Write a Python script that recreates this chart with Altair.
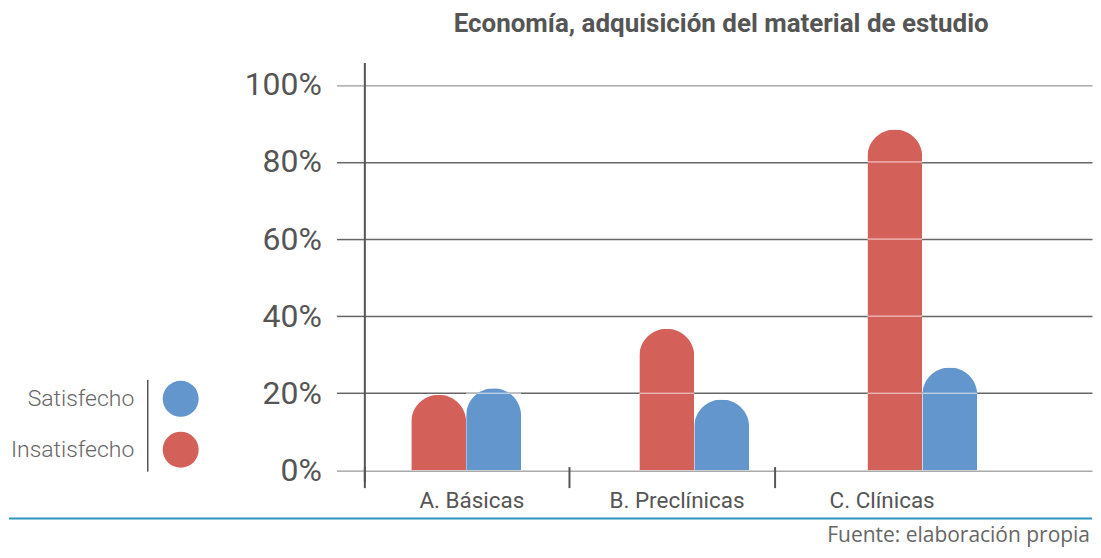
import altair as alt
import pandas as pd

# ---------------- data ----------------
categories = ["A. Básicas", "B. Preclínicas", "C. Clínicas"]
series = ["Insatisfecho", "Satisfecho"]
insatisfecho = [19.6, 36.7, 88.4]
satisfecho = [21.3, 18.4, 26.7]
y_ticks = [0, 20, 40, 60, 80, 100]
legend_order = ["Satisfecho", "Insatisfecho"]
colors = ["#D4605A", "#6396CC"]

title_text = "Economía, adquisición del material de estudio"
source_text = "Fuente: elaboración propia"

rows = []
for c, a, b in zip(categories, insatisfecho, satisfecho):
    rows.append({"cat": c, "serie": "Insatisfecho", "valor": a})
    rows.append({"cat": c, "serie": "Satisfecho", "valor": b})
df = pd.DataFrame(rows)
cat_df = pd.DataFrame({"cat": categories})

# gridline segments that pass over bars (drawn lighter on top of the bars)
grid_rows = [dict(r, grid=g) for r in rows for g in y_ticks if 0 < g < r["valor"]]
grid_df = pd.DataFrame(grid_rows)

# ---------------- layout ----------------
W, H = 729, 420
LEG_W = 60
GAP = 157

color_scale = alt.Scale(domain=series, range=colors)


def bar_x_scale():
    return alt.Scale(type="band", domain=categories, paddingInner=0.5186, paddingOuter=0.3545, align=0.2901)


def xoff_enc():
    return alt.XOffset("serie:N", sort=series, scale=alt.Scale(domain=series, paddingInner=0, paddingOuter=0))


y_scale = alt.Scale(domain=[-2.93, 105.83], nice=False, zero=False)
y_axis = alt.Axis(
    values=y_ticks, title=None, labelExpr="datum.value + '%'",
    domainColor="#555555", domainWidth=2,
    tickSize=28, tickWidth=1.5,
    tickColor={"condition": {"test": "datum.value == 0 || datum.value == 100", "value": "#aaaaaa"}, "value": "#666666"},
    grid=True, gridWidth=1.5,
    gridColor={"condition": {"test": "datum.value == 0 || datum.value == 100", "value": "#aaaaaa"}, "value": "#666666"},
    labelFont="Roboto", labelFontSize=32, labelColor="#555555", labelPadding=15,
)

bars = alt.Chart(df).mark_bar(cornerRadiusTopLeft=27.5, cornerRadiusTopRight=27.5).encode(
    x=alt.X("cat:N", sort=categories, scale=bar_x_scale(), axis=None),
    xOffset=xoff_enc(),
    y=alt.Y("valor:Q", scale=y_scale, axis=y_axis),
    color=alt.Color("serie:N", scale=color_scale, legend=None),
)

overlay = alt.Chart(grid_df).mark_rect(fillOpacity=0, stroke="white", strokeOpacity=0.45, strokeWidth=1).encode(
    x=alt.X("cat:N", sort=categories, scale=bar_x_scale(), axis=None),
    xOffset=xoff_enc(),
    y=alt.Y("grid:Q"),
    y2=alt.Y2("grid"),
)

# category axis: separator ticks at the start of each category section, labels after them
x_axis = alt.Axis(
    orient="bottom", title=None, domain=False, grid=False, ticks=True, tickSize=21, tickWidth=2,
    tickColor="#555555", bandPosition=0, labelOffset=5, offset=-15, labelAngle=0,
    labelFont="Roboto", labelFontSize=22.5, labelColor="#555555", labelPadding=2,
)
axis_layer = alt.Chart(cat_df).mark_point(opacity=0).encode(
    x=alt.X("cat:N", sort=categories,
            scale=alt.Scale(type="band", domain=categories, paddingInner=0, paddingOuter=0.2737, align=0),
            axis=x_axis),
)

main = alt.layer(bars, overlay, axis_layer).resolve_scale(x="independent").properties(
    width=W, height=H,
    title=alt.TitleParams(
        title_text, frame="group", anchor="middle", fontSize=26, fontWeight="bold",
        color="#555555", font="Roboto", baseline="alphabetic", offset=4, dx=-7,
    ),
)

# ---------------- legend panel ----------------
leg_df = pd.DataFrame({"serie": legend_order})
one = pd.DataFrame({"k": [0]})

leg_axis = alt.Axis(title=None, domain=False, ticks=False, grid=False,
                    labelFont="Roboto", labelFontSize=23, labelFontWeight=300,
                    labelColor="#666666", labelPadding=14)
leg_scale = alt.Scale(type="point", domain=legend_order, range=[337, 388], padding=0)

circles = alt.Chart(leg_df).mark_circle(size=1300, opacity=1).encode(
    y=alt.Y("serie:N", sort=legend_order, scale=leg_scale, axis=leg_axis),
    x=alt.value(33),
    color=alt.Color("serie:N", scale=color_scale, legend=None),
)
sep = alt.Chart(one).mark_rule(color="#555555", strokeWidth=1.5, yOffset=-19, y2Offset=22).encode(
    y=alt.Y(datum="Satisfecho", type="nominal", axis=leg_axis),
    y2=alt.Y2(datum="Insatisfecho"),
    x=alt.value(0),
)
blue_line = alt.Chart(one).mark_rule(color="#2b95bf", strokeWidth=2).encode(
    x=alt.value(-139), x2=alt.value(LEG_W + GAP + W), y=alt.value(457),
)
legend_panel = alt.layer(circles, sep, blue_line).properties(width=LEG_W, height=H)

chart = alt.hconcat(legend_panel, main, spacing=GAP, bounds="flush").resolve_scale(
    y="independent", x="independent"
).properties(
    title=alt.TitleParams(
        source_text, orient="bottom", anchor="end", fontSize=21, font="Open Sans",
        fontWeight="normal", color="#666666", baseline="alphabetic", offset=22, dx=-3,
    ),
    padding={"left": 0, "top": 3, "right": 0, "bottom": 2},
).configure_view(stroke=None)

chart.save("out.html", embed_options={"renderer": "svg", "actions": False})
